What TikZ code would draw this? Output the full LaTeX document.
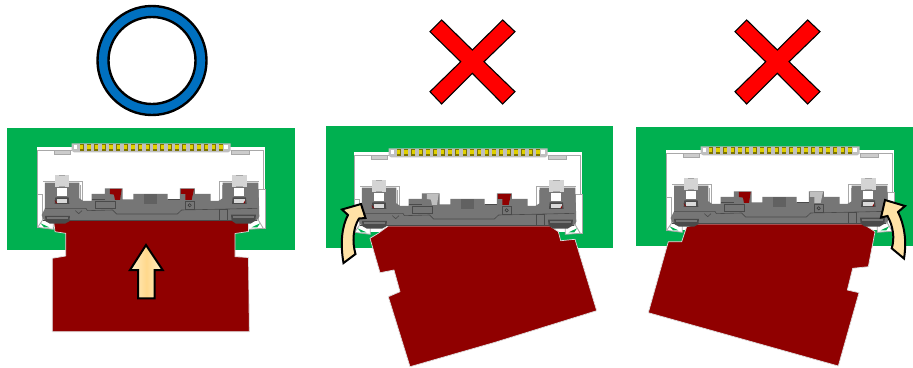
\documentclass[tikz,border=0pt]{standalone}
\usetikzlibrary{shadings}
\definecolor{pcb}{HTML}{00B050}
\definecolor{card}{HTML}{900000}
\definecolor{body}{HTML}{767676}
\definecolor{bodyd}{HTML}{4A4A4A}
\definecolor{framec}{HTML}{A8A8A8}
\definecolor{pinc}{HTML}{E0D000}
\definecolor{pind}{HTML}{7C7400}
\definecolor{ringc}{HTML}{0070C0}
\definecolor{pale}{HTML}{FFE2A6}
\definecolor{palec}{HTML}{FFD88C}
\definecolor{palet}{HTML}{FFF0C8}
\tikzset{
  cardshape/.style={fill=card,draw=white!75!gray,line width=.7pt,line join=round},
  arrowshape/.style={draw=black,line width=2pt,line join=miter,miter limit=4},
  crossmark/.style={fill=red,draw=black,line width=1.1pt,line join=miter},
  frameline/.style={draw=framec,line width=.8pt},
  detail/.style={draw=bodyd,line width=.6pt},
  tab/.style={fill=black!20,draw=framec,line width=.6pt},
}
% #1,#2 panel offset
\newcommand{\opening}[2]{%
  \begin{scope}[shift={(#1,#2+120)},x=.3333pt,y=-.3333pt]
    \fill[white] (112,80) rectangle (795,322);
    \draw[frameline] (113,325) -- (113,92) -- (215,92);
    \draw[frameline] (692,92) -- (790,92) -- (790,325);
    \draw[tab] (163,92) rectangle (212,104);
    \draw[tab] (695,92) rectangle (747,104);
    \draw[frameline,fill=white] (113,222) rectangle (128,322);
    \draw[frameline,fill=white] (775,208) rectangle (795,325);
    \draw[frameline,fill=white] (113,322) -- (160,328) -- (160,306) -- (128,300) -- cycle;
    \draw[frameline,fill=white] (790,325) -- (745,328) -- (745,306) -- (775,300) -- cycle;
    \fill[pcb] (122,310) -- (148,322) -- (132,322) -- cycle;
    \fill[pcb] (780,310) -- (755,322) -- (772,322) -- cycle;
  \end{scope}}
% #1,#2 panel offset; #3 left bit colour; #4 right bit colour
\newcommand{\housing}[4]{%
  \begin{scope}[shift={(#1,#2+120)},x=.3333pt,y=-.3333pt]
    \fill[black!25] (215,70) -- (692,70) -- (692,92) -- (685,97) -- (222,97) -- (215,92) -- cycle;
    \fill[white] (222,74) rectangle (232,86);
    \fill[white] (672,74) rectangle (684,86);
    \foreach \px in {245,267,...,663}{
      \fill[pind] (\px-6,72) rectangle (\px+6,93);
      \fill[pinc] (\px-5,74) rectangle (\px+5,87);
    }
    \draw[framec,line width=.8pt,fill=white] (130,184) -- (248,184) -- (248,245);
    \draw[framec,line width=.8pt] (658,245) -- (658,184) -- (778,184);
    \draw[framec,line width=.6pt] (240,195) -- (240,240);
    \draw[framec,line width=.6pt] (666,195) -- (666,240);
    \fill[body] (135,188) -- (238,188) -- (238,235) -- (250,243) -- (275,243) -- (275,222) -- (315,222) -- (315,205) -- (368,205) -- (368,238) -- (400,238) -- (400,222) -- (503,222) -- (503,238) -- (540,238) -- (540,205) -- (585,205) -- (585,222) -- (632,222) -- (632,243) -- (655,243) -- (668,235) -- (668,188) -- (775,188) -- (778,290) -- (770,302) -- (132,302) -- (125,285) -- (135,265) -- cycle;
    \fill[black!62] (433,222) rectangle (470,252);
    \foreach \lx in {186,718}{
      \fill[black!17] (\lx-22,165) rectangle (\lx+22,200);
      \fill[black!35] (\lx-10,165) rectangle (\lx+10,200);
      \fill[black!17] (\lx-15,168) rectangle (\lx+15,198);
      \fill[white] (\lx-15,203) rectangle (\lx+15,228);
      \fill[bodyd] (\lx-20,232) -- (\lx+20,232) -- (\lx+22,252) -- (\lx-22,252) -- cycle;
      \fill[black!15] (\lx-16,236) rectangle (\lx+16,248);
    }
    \fill[card] (164,240) -- (168,250) -- (172,250) -- cycle;
    \fill[card] (736,240) -- (730,250) -- (734,250) -- cycle;
    \fill[#3] (330,207) -- (365,207) -- (360,240) -- (345,240) -- (342,224) -- (330,222) -- cycle;
    \fill[#4] (543,207) -- (582,207) -- (575,240) -- (556,240) -- (556,222) -- (543,222) -- cycle;
    \draw[detail] (135,265) -- (258,265) -- (262,272) -- (338,270) -- (350,282) -- (532,282) -- (545,270) -- (640,268) -- (772,265);
    \draw[detail] (287,245) rectangle (345,265);
    \draw[detail] (556,244) rectangle (583,267);
    \draw[black!80,line width=.5pt] (569,256) circle (5);
    \draw[detail] (226,272) -- (236,281) -- (246,272);
    \draw[detail] (658,267) rectangle (682,300);
    \draw[detail] (275,238) -- (315,238);
    \draw[detail] (503,238) -- (540,238);
    \draw[bodyd,line width=.9pt] (130,302) -- (772,302);
    \fill[bodyd] (135,288) -- (210,288) -- (208,304) -- (195,311) -- (150,311) -- (137,304) -- cycle;
    \fill[bodyd] (693,284) -- (768,284) -- (766,302) -- (752,311) -- (708,311) -- (695,302) -- cycle;
    \fill[body] (142,292) rectangle (204,297);
    \fill[body] (700,288) rectangle (762,293);
  \end{scope}}
\begin{document}
\begin{tikzpicture}[x=1pt,y=-1pt]
\useasboundingbox (0,0) rectangle (913,367);
\fill[white] (0,0) rectangle (913,367);
\fill[ringc,even odd rule,draw=black,line width=2.4pt] (152,60.5) circle (54.5) (152,60.5) circle (43.5);
\foreach \sx in {0,305}{
  \draw[crossmark] (441.7+\sx,20) -- (472.3+\sx,50) -- (502.7+\sx,20) -- (515+\sx,31.7) -- (484+\sx,61.7) -- (515+\sx,91.7) -- (502.7+\sx,104) -- (472.3+\sx,73.3) -- (441.7+\sx,104) -- (430+\sx,91.7) -- (460.7+\sx,61.7) -- (430+\sx,31.7) -- cycle;
}
\fill[pcb] (7,128) rectangle (295,250);
\fill[pcb] (326,126) rectangle (613,248);
\fill[pcb] (636,127) rectangle (913,246);
% panel 1
\opening{0}{0}
\draw[cardshape] (53.5,220.5) -- (248.5,220.5) -- (248.5,231.5) -- (235,233.5) -- (235,256.7) -- (248.5,257.5) -- (249.3,331.7) -- (52.3,331.7) -- (52.3,258.3) -- (65.7,256) -- (65.7,233.3) -- (55,231.7) -- cycle;
\housing{0}{0}{card}{card}
\draw[arrowshape,left color=palet,right color=palet,middle color=palec] (146,245) -- (162.7,270) -- (154.7,270) -- (154.7,298.3) -- (138,298.3) -- (138,270) -- (130,270) -- cycle;
% panel 2
\opening{317}{5}
\draw[cardshape] (388.3,226) -- (550,226) -- (558.3,231.7) -- (560.7,240.7) -- (575,239.3) -- (596.7,310.7) -- (495,342.3) -- (410,366.7) -- (388.3,296.7) -- (400,291.7) -- (394,270) -- (380,272.7) -- (370,238.3) -- (378.3,233.3) -- cycle;
\housing{317}{5}{black!25}{card}
\draw[arrowshape,fill=pale] (343.5,263) .. controls (340,243) and (342,226) .. (348,215) -- (342,209.5) -- (361,204) -- (365.5,218) -- (359,218.5) .. controls (353,228) and (352,242) .. (355.5,254) -- cycle;
% panel 3
\opening{629}{3}
\draw[cardshape] (698.3,224) -- (863.3,224) -- (875,231.7) -- (868.3,266.7) -- (852.7,268.3) -- (847.3,290) -- (859,292.7) -- (838.3,366) -- (648.3,312.7) -- (668.3,241.7) -- (681.7,241.7) -- (686.7,226.7) -- cycle;
\housing{629}{3}{card}{black!25}
\draw[arrowshape,fill=pale] (904,258.5) .. controls (907,240) and (904,224) .. (898,212) -- (905,206) -- (885,200) -- (881,217.5) -- (887.5,216) .. controls (893,226) and (895,238) .. (891.7,248.3) -- cycle;
\end{tikzpicture}
\end{document}
